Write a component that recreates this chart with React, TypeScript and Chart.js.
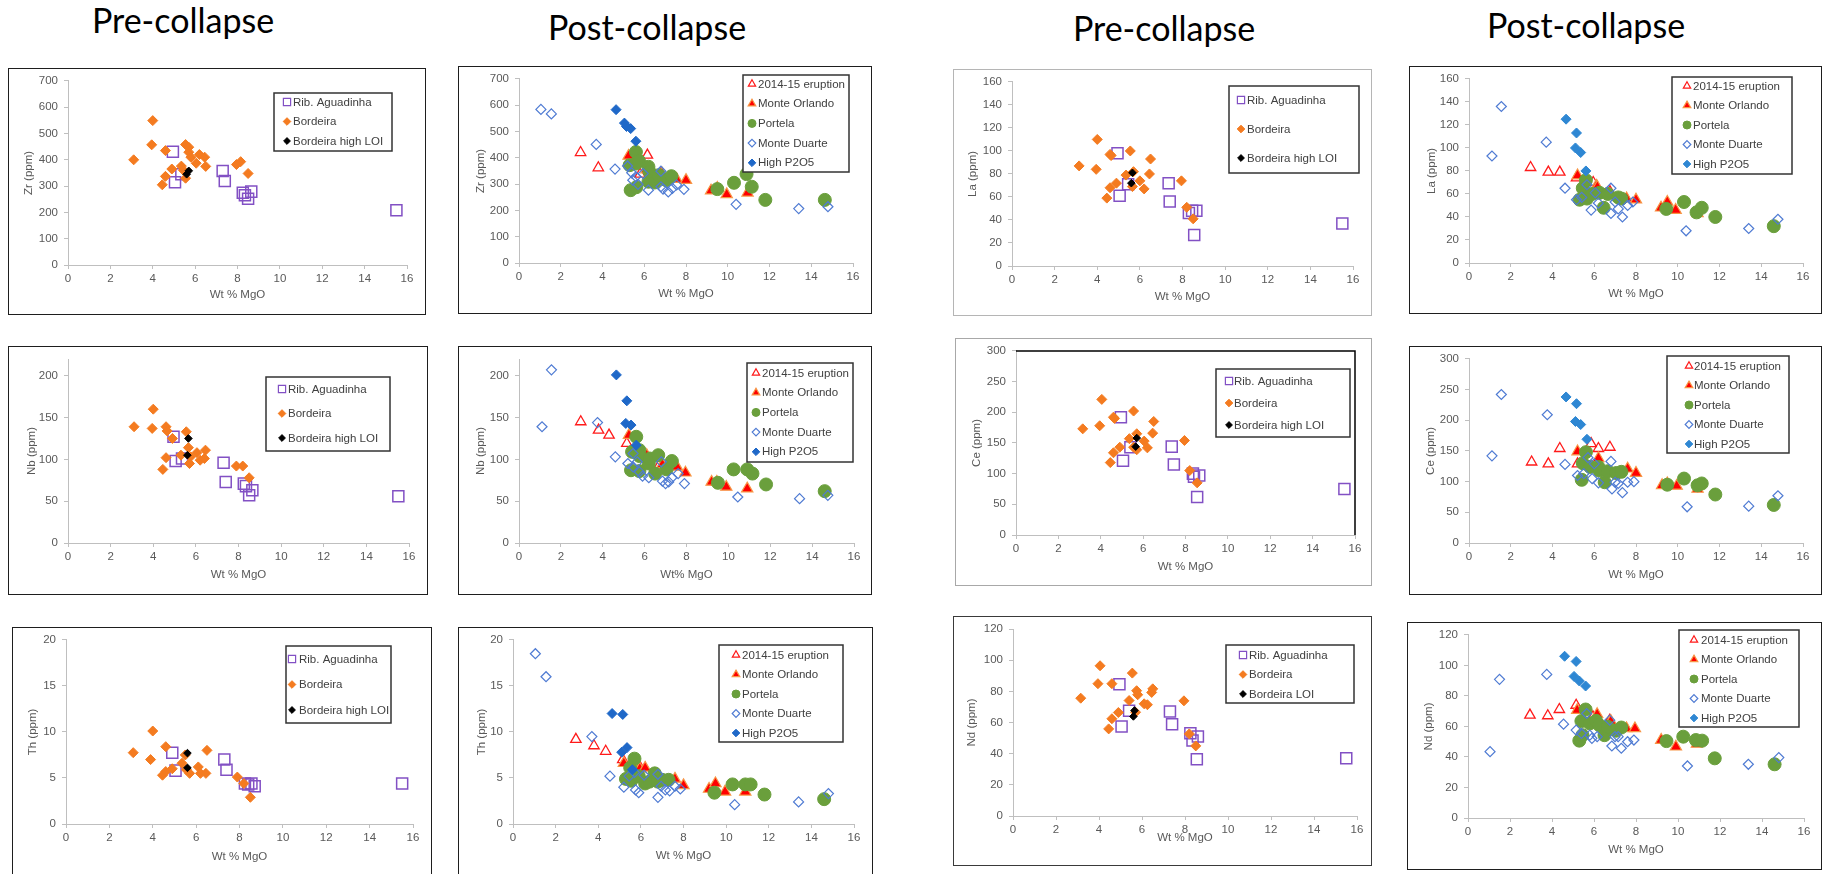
import React, { useEffect, useRef } from "react";
import { Chart, registerables } from "chart.js";
Chart.register(...registerables);

type P = [number, number];

// ---------- Panel 1: Zr, pre-collapse ----------
const ZR_PRE_RIB: P[] = [[4.95,431],[5.05,315],[5.35,345],[7.3,357],[7.4,319],[8.25,275],[8.35,265],[8.5,252],[8.65,279],[15.5,208]];
const ZR_PRE_BORDEIRA: P[] = [[3.1,400],[3.95,457],[4.0,549],[4.45,305],[4.6,337],[4.6,435],[4.9,365],[5.35,376],[5.45,360],[5.55,330],[5.55,458],[5.7,448],[5.7,429],[5.8,410],[6.05,387],[6.2,420],[6.45,410],[6.5,375],[7.95,382],[8.15,393],[8.5,348]];
const ZR_PRE_LOI: P[] = [[5.6,345],[5.7,358]];

// ---------- Panel 2: Zr, post-collapse ----------
const ZR_POST_ERUPTION: P[] = [[2.95,420],[3.8,362],[5.8,338],[6.15,410],[6.8,340]];
const ZR_POST_ORLANDO: P[] = [[5.25,407],[6.1,355],[6.85,340],[7.55,319],[8.0,315],[9.2,275],[9.5,285],[9.95,261],[10.95,267]];
const ZR_POST_PORTELA: P[] = [[5.3,372],[5.35,277],[5.6,422],[5.6,378],[5.62,288],[5.75,388],[6.2,366],[6.2,309],[6.25,347],[6.5,306],[6.7,334],[7.05,315],[7.3,330],[9.5,281],[10.3,305],[10.9,338],[11.15,290],[11.8,240],[14.65,240]];
const ZR_POST_DUARTE: P[] = [[1.05,584],[1.55,567],[3.7,451],[4.6,357],[5.2,369],[5.4,343],[5.45,315],[5.6,328],[5.7,299],[5.95,340],[6.2,277],[6.8,349],[6.8,290],[6.9,281],[7.15,270],[7.35,284],[7.55,297],[7.9,280],[10.4,223],[13.4,207],[14.8,214]];
const ZR_POST_P2O5: P[] = [[4.65,583],[5.05,532],[5.15,519],[5.35,511],[5.6,463]];

// ---------- Panel 3: La, pre-collapse ----------
const LA_PRE_RIB: P[] = [[4.95,98],[5.05,61],[5.45,71],[7.35,72],[7.4,56],[8.3,46],[8.45,48],[8.65,48],[8.55,27],[15.5,37]];
const LA_PRE_BORDEIRA: P[] = [[3.15,87],[3.95,84],[4.0,110],[4.45,59],[4.6,97],[4.65,96],[4.6,68],[4.9,72],[5.35,79],[5.55,100],[5.65,69],[5.7,82],[6.0,74],[6.2,67],[6.45,80],[6.5,93],[7.95,74],[8.2,51],[8.5,41]];
const LA_PRE_LOI: P[] = [[5.65,81],[5.6,72]];

// ---------- Panel 4: La, post-collapse ----------
const LA_POST_ERUPTION: P[] = [[2.95,83],[3.8,79],[4.35,79],[5.15,74],[5.95,70],[6.75,62]];
const LA_POST_ORLANDO: P[] = [[5.2,76],[6.1,67],[6.15,66],[7.55,56],[8.0,55],[9.2,48],[9.5,53],[9.9,46],[10.95,43]];
const LA_POST_PORTELA: P[] = [[5.3,55],[5.45,65],[5.6,72],[5.65,56],[5.9,60],[6.25,61],[6.45,48],[6.65,60],[7.15,57],[7.3,56],[9.45,47],[10.3,53],[10.9,44],[11.15,48],[11.8,40],[14.6,32]];
const LA_POST_DUARTE: P[] = [[1.1,93],[1.55,136],[3.7,105],[4.6,65],[5.15,55],[5.4,57],[5.65,68],[5.85,46],[6.05,61],[6.2,52],[6.8,65],[6.8,43],[7.0,53],[7.15,47],[7.35,40],[7.6,50],[7.85,53],[10.4,28],[13.4,30],[14.8,38]];
const LA_POST_P2O5: P[] = [[4.65,125],[5.15,113],[5.1,100],[5.35,96],[5.6,80]];

// ---------- Panel 5: Nb, pre-collapse ----------
const NB_PRE_RIB: P[] = [[4.95,127],[5.05,98],[5.35,101],[7.3,96],[7.4,73],[8.25,71],[8.35,68],[8.5,57],[8.65,63],[15.5,56]];
const NB_PRE_BORDEIRA: P[] = [[3.1,139],[3.95,137],[4.0,160],[4.45,88],[4.6,139],[4.65,134],[4.6,102],[4.9,125],[5.3,105],[5.55,133],[5.65,114],[5.75,103],[5.7,95],[6.05,108],[6.2,99],[6.45,111],[6.4,101],[7.9,92],[8.2,92],[8.5,78]];
const NB_PRE_LOI: P[] = [[5.65,125],[5.6,105]];

// ---------- Panel 6: Nb, post-collapse ----------
const NB_POST_ERUPTION: P[] = [[2.95,145],[3.8,135],[4.3,129],[5.15,119],[5.9,107],[6.7,93]];
const NB_POST_ORLANDO: P[] = [[5.25,129],[6.1,105],[6.85,94],[7.55,91],[7.95,84],[9.2,73],[9.45,73],[9.9,67],[10.9,65]];
const NB_POST_PORTELA: P[] = [[5.35,87],[5.4,109],[5.6,127],[5.75,111],[5.75,86],[5.75,104],[6.2,95],[6.25,101],[6.5,83],[6.65,105],[7.05,88],[7.3,98],[9.5,72],[10.25,88],[10.9,88],[11.15,83],[11.8,70],[14.6,62]];
const NB_POST_DUARTE: P[] = [[1.1,139],[1.55,207],[3.75,144],[4.6,103],[5.2,95],[5.45,107],[5.45,91],[5.65,97],[5.75,85],[5.9,80],[6.2,78],[6.8,97],[6.85,74],[7.0,71],[7.15,73],[7.3,78],[7.6,83],[7.9,71],[10.45,55],[13.4,53],[14.75,57]];
const NB_POST_P2O5: P[] = [[4.65,201],[5.15,170],[5.1,143],[5.35,141],[5.6,117]];

// ---------- Panel 7: Ce, pre-collapse ----------
const CE_PRE_RIB: P[] = [[4.95,192],[5.05,121],[5.4,143],[7.35,144],[7.45,115],[8.35,100],[8.4,95],[8.65,97],[8.55,62],[15.5,75]];
const CE_PRE_BORDEIRA: P[] = [[3.15,173],[3.95,178],[4.05,221],[4.45,118],[4.6,134],[4.6,192],[4.65,190],[4.9,143],[5.35,157],[5.55,202],[5.55,143],[5.7,165],[5.7,139],[6.05,153],[6.2,142],[6.45,166],[6.5,185],[7.95,154],[8.2,105],[8.55,85]];
const CE_PRE_LOI: P[] = [[5.7,158],[5.65,144]];

// ---------- Panel 8: Ce, post-collapse ----------
const CE_POST_ERUPTION: P[] = [[3.0,132],[3.8,129],[4.35,154],[5.2,129],[5.85,162],[6.2,154],[6.75,156]];
const CE_POST_ORLANDO: P[] = [[5.2,149],[6.2,138],[7.6,121],[8.0,114],[9.25,94],[9.5,97],[9.95,93],[10.95,88]];
const CE_POST_PORTELA: P[] = [[5.4,103],[5.45,130],[5.6,148],[5.8,124],[6.2,124],[6.25,118],[6.5,99],[6.65,117],[7.05,114],[7.3,116],[9.5,95],[10.3,105],[10.95,94],[11.15,97],[11.8,79],[14.6,62]];
const CE_POST_DUARTE: P[] = [[1.1,142],[1.55,242],[3.75,209],[4.6,128],[5.2,110],[5.5,113],[5.7,139],[5.9,105],[6.0,129],[6.2,98],[6.8,133],[6.85,88],[7.0,99],[7.15,97],[7.35,82],[7.6,99],[7.9,100],[10.45,59],[13.4,60],[14.8,77]];
const CE_POST_P2O5: P[] = [[4.65,238],[5.15,227],[5.1,198],[5.35,193],[5.65,169]];

// ---------- Panel 9: Th, pre-collapse ----------
const TH_PRE_RIB: P[] = [[4.9,7.75],[5.05,5.8],[7.3,7.0],[7.4,5.9],[8.25,4.4],[8.4,4.3],[8.55,4.4],[8.7,4.1],[15.5,4.4]];
const TH_PRE_BORDEIRA: P[] = [[3.1,7.75],[3.9,7.0],[4.0,10.1],[4.45,5.3],[4.6,8.4],[4.6,5.7],[4.9,6.0],[5.35,6.6],[5.5,7.5],[5.55,5.9],[5.7,5.5],[6.1,6.2],[6.2,5.5],[6.45,5.5],[6.5,8.0],[7.9,5.1],[8.2,4.4],[8.5,2.9]];
const TH_PRE_LOI: P[] = [[5.6,7.7],[5.6,6.1]];

// ---------- Panel 10: Th, post-collapse ----------
const TH_POST_ERUPTION: P[] = [[2.95,9.2],[3.8,8.5],[4.35,7.9],[5.15,7.0],[5.95,6.2],[6.8,5.3]];
const TH_POST_ORLANDO: P[] = [[5.2,6.6],[5.95,6.0],[6.2,6.1],[7.6,4.9],[8.0,4.2],[9.2,3.8],[9.5,4.4],[9.95,3.5],[10.9,3.5]];
const TH_POST_PORTELA: P[] = [[5.3,4.9],[5.5,6.1],[5.55,4.7],[5.7,7.1],[5.9,5.2],[6.2,4.4],[6.4,4.6],[6.65,5.5],[6.8,4.6],[7.0,4.8],[7.3,4.8],[9.45,3.4],[10.3,4.3],[10.9,4.3],[11.15,4.3],[11.8,3.2],[14.6,2.7]];
const TH_POST_DUARTE: P[] = [[1.05,18.5],[1.55,16.0],[3.7,9.5],[4.55,5.2],[5.2,4.0],[5.45,5.2],[5.7,5.6],[5.75,3.7],[5.9,3.4],[6.15,5.3],[6.8,5.4],[6.8,2.9],[6.95,4.1],[7.15,3.7],[7.35,3.6],[7.6,4.1],[7.85,3.8],[10.4,2.1],[13.4,2.4],[14.8,3.3]];
const TH_POST_P2O5: P[] = [[4.65,12.0],[5.15,11.9],[5.1,7.8],[5.35,8.3],[5.6,5.9]];

// ---------- Panel 11: Nd, pre-collapse ----------
const ND_PRE_RIB: P[] = [[4.95,84.6],[5.05,57.4],[5.4,67.5],[7.3,67.1],[7.4,58.9],[8.25,53.1],[8.35,48.4],[8.6,51],[8.55,36.4],[15.5,37]];
const ND_PRE_BORDEIRA: P[] = [[3.15,75.6],[3.95,84.9],[4.05,96.4],[4.45,55.9],[4.6,62.4],[4.6,84.9],[4.9,66.4],[5.4,74.1],[5.55,91.7],[5.7,66.6],[5.75,80.4],[5.8,77.8],[6.1,72],[6.25,71.4],[6.45,79.3],[6.5,81.6],[7.95,73.9],[8.2,52.7],[8.5,45]];
const ND_PRE_LOI: P[] = [[5.65,67.7],[5.6,63.9]];

// ---------- Panel 12: Nd, post-collapse ----------
const ND_POST_ERUPTION: P[] = [[2.95,67.4],[3.8,67],[4.35,71.1],[5.15,73.9],[5.95,66.3],[6.75,64.1]];
const ND_POST_ORLANDO: P[] = [[5.2,70.7],[6.15,68],[6.8,63.5],[7.55,58.7],[7.95,58.7],[9.2,51.1],[9.9,46.7],[10.9,48.5]];
const ND_POST_PORTELA: P[] = [[5.3,50.7],[5.4,63.5],[5.45,54.3],[5.6,71.1],[5.8,62],[6.1,63.7],[6.25,60.9],[6.5,54.3],[6.65,59.8],[7.05,57.2],[7.3,59.3],[9.45,50.4],[10.25,53.3],[10.85,51.1],[11.15,50.7],[11.75,39.1],[14.6,35.2]];
const ND_POST_DUARTE: P[] = [[1.05,43.5],[1.5,90.9],[3.75,94.1],[4.55,61.5],[5.15,57.6],[5.4,55.4],[5.65,68.5],[5.8,54.3],[5.9,52.2],[6.15,53.3],[6.75,64.1],[6.85,47.2],[7.0,53.3],[7.15,53.3],[7.3,45.7],[7.6,50],[7.9,51.1],[10.45,34.1],[13.35,35.2],[14.8,39.6]];
const ND_POST_P2O5: P[] = [[4.6,106],[5.15,102.6],[5.05,92.8],[5.3,89.8],[5.6,86.5]];

const TITLES: { text: string; cx: number; base: number }[] = [
  { text: "Pre-collapse", cx: 183, base: 33 },
  { text: "Post-collapse", cx: 647, base: 40 },
  { text: "Pre-collapse", cx: 1164, base: 41 },
  { text: "Post-collapse", cx: 1586, base: 38 },
];

// ---------- styles ----------
type Key = "rib" | "bordeira" | "loi" | "eruption" | "orlando" | "portela" | "duarte" | "p2o5" | "p2o5b";
interface Sty { label: string; ps: string; r: number; lr: number; bg: string; bc: string; bw: number; }
const STYLE: Record<Key, Sty> = {
  rib: { label: "Rib. Aguadinha", ps: "rect", r: 7.8, lr: 3.6, bg: "rgba(0,0,0,0)", bc: "#8250C4", bw: 1.5 },
  bordeira: { label: "Bordeira", ps: "rectRot", r: 5, lr: 3.8, bg: "#F47B20", bc: "#F47B20", bw: 1 },
  loi: { label: "Bordeira high LOI", ps: "rectRot", r: 3.8, lr: 3.4, bg: "#000000", bc: "#000000", bw: 1 },
  eruption: { label: "2014-15 eruption", ps: "triangle", r: 6, lr: 4.2, bg: "rgba(0,0,0,0)", bc: "#FF1A1A", bw: 1.3 },
  orlando: { label: "Monte Orlando", ps: "triangle", r: 6.5, lr: 4.4, bg: "#FF0000", bc: "#F79646", bw: 1.2 },
  portela: { label: "Portela", ps: "circle", r: 6.5, lr: 4, bg: "#6A9F3C", bc: "#6A9F3C", bw: 1 },
  duarte: { label: "Monte Duarte", ps: "rectRot", r: 5, lr: 3.8, bg: "rgba(0,0,0,0)", bc: "#4F7BD3", bw: 1.2 },
  p2o5: { label: "High P2O5", ps: "rectRot", r: 5, lr: 3.8, bg: "#1F68C8", bc: "#1F68C8", bw: 1 },
  p2o5b: { label: "High P2O5", ps: "rectRot", r: 5, lr: 3.8, bg: "#2E87D3", bc: "#2E87D3", bw: 1 },
};

interface Legend { x: number; y: number; w: number; h: number; r0: number; gap: number; mx: number; tx: number; }
interface Panel {
  box: [number, number, number, number];
  border: string;
  plot: [number, number, number, number];
  yMax: number; yStep: number; yTitle: string; xTitle: string;
  yTitleX: number; xTitleY: number;
  series: [Key, P[], string?][];
  legend: Legend;
  plotFrame?: boolean;
}

const PRE = (rib: P[], b: P[], loi: P[], loiLabel?: string): [Key, P[], string?][] => [["rib", rib], ["bordeira", b], ["loi", loi, loiLabel]];
const POST = (e: P[], o: P[], p: P[], d: P[], h: P[], hk: Key = "p2o5"): [Key, P[], string?][] => [["eruption", e], ["orlando", o], ["portela", p], ["duarte", d], [hk, h]];

const PANELS: Panel[] = [
  { box: [8, 68, 426, 315], border: "#1e1e1e", plot: [68, 407, 80, 265], yMax: 700, yStep: 100, yTitle: "Zr (ppm)", xTitle: "Wt % MgO", yTitleX: 29, xTitleY: 295,
    series: PRE(ZR_PRE_RIB, ZR_PRE_BORDEIRA, ZR_PRE_LOI), legend: { x: 274, y: 93, w: 118, h: 58, r0: 9, gap: 19.5, mx: 13, tx: 19 } },
  { box: [458, 66, 872, 314], border: "#1e1e1e", plot: [519, 853, 78, 263], yMax: 700, yStep: 100, yTitle: "Zr (ppm)", xTitle: "Wt % MgO", yTitleX: 481, xTitleY: 294,
    series: POST(ZR_POST_ERUPTION, ZR_POST_ORLANDO, ZR_POST_PORTELA, ZR_POST_DUARTE, ZR_POST_P2O5), legend: { x: 743, y: 75, w: 106, h: 97, r0: 9, gap: 19.7, mx: 9, tx: 15 } },
  { box: [953, 69, 1372, 316], border: "#b5b5b5", plot: [1012, 1353, 81, 266], yMax: 160, yStep: 20, yTitle: "La (ppm)", xTitle: "Wt % MgO", yTitleX: 973, xTitleY: 297,
    series: PRE(LA_PRE_RIB, LA_PRE_BORDEIRA, LA_PRE_LOI), legend: { x: 1229, y: 86, w: 130, h: 87, r0: 14, gap: 29, mx: 12, tx: 18 } },
  { box: [1409, 66, 1822, 314], border: "#1e1e1e", plot: [1469, 1803, 78, 263], yMax: 160, yStep: 20, yTitle: "La (ppm)", xTitle: "Wt % MgO", yTitleX: 1432, xTitleY: 294,
    series: POST(LA_POST_ERUPTION, LA_POST_ORLANDO, LA_POST_PORTELA, LA_POST_DUARTE, LA_POST_P2O5, "p2o5b"), legend: { x: 1672, y: 77, w: 120, h: 97, r0: 9, gap: 19.5, mx: 15, tx: 21 } },
  { box: [8, 346, 428, 595], border: "#1e1e1e", plot: [68, 409, 359, 543], yMax: 220, yStep: 50, yTitle: "Nb (ppm)", xTitle: "Wt % MgO", yTitleX: 32, xTitleY: 575,
    series: PRE(NB_PRE_RIB, NB_PRE_BORDEIRA, NB_PRE_LOI), legend: { x: 266, y: 377, w: 124, h: 74, r0: 12, gap: 24.5, mx: 16, tx: 22 } },
  { box: [458, 346, 872, 595], border: "#1e1e1e", plot: [519, 854, 359, 543], yMax: 220, yStep: 50, yTitle: "Nb (ppm)", xTitle: "Wt% MgO", yTitleX: 481, xTitleY: 575,
    series: POST(NB_POST_ERUPTION, NB_POST_ORLANDO, NB_POST_PORTELA, NB_POST_DUARTE, NB_POST_P2O5), legend: { x: 747, y: 363, w: 106, h: 99, r0: 10, gap: 19.7, mx: 9, tx: 15 } },
  { box: [955, 338, 1372, 586], border: "#a8a8a8", plot: [1016, 1355, 350, 535], yMax: 300, yStep: 50, yTitle: "Ce (ppm)", xTitle: "Wt % MgO", yTitleX: 977, xTitleY: 567,
    series: PRE(CE_PRE_RIB, CE_PRE_BORDEIRA, CE_PRE_LOI), legend: { x: 1216, y: 369, w: 134, h: 68, r0: 12, gap: 22, mx: 13, tx: 18 }, plotFrame: true },
  { box: [1409, 346, 1822, 595], border: "#1e1e1e", plot: [1469, 1803, 358, 543], yMax: 300, yStep: 50, yTitle: "Ce (ppm)", xTitle: "Wt % MgO", yTitleX: 1431, xTitleY: 575,
    series: POST(CE_POST_ERUPTION, CE_POST_ORLANDO, CE_POST_PORTELA, CE_POST_DUARTE, CE_POST_P2O5, "p2o5b"), legend: { x: 1667, y: 356, w: 122, h: 97, r0: 10, gap: 19.5, mx: 22, tx: 27 } },
  { box: [12, 627, 432, 880], border: "#1e1e1e", plot: [66, 413, 639, 824], yMax: 20, yStep: 5, yTitle: "Th (ppm)", xTitle: "Wt % MgO", yTitleX: 33, xTitleY: 857,
    series: PRE(TH_PRE_RIB, TH_PRE_BORDEIRA, TH_PRE_LOI), legend: { x: 286, y: 646, w: 105, h: 77, r0: 13, gap: 25.5, mx: 6, tx: 13 } },
  { box: [458, 627, 873, 880], border: "#1e1e1e", plot: [513, 854, 639, 824], yMax: 20, yStep: 5, yTitle: "Th (ppm)", xTitle: "Wt % MgO", yTitleX: 482, xTitleY: 856,
    series: POST(TH_POST_ERUPTION, TH_POST_ORLANDO, TH_POST_PORTELA, TH_POST_DUARTE, TH_POST_P2O5), legend: { x: 719, y: 645, w: 124, h: 97, r0: 10, gap: 19.5, mx: 17, tx: 23 } },
  { box: [953, 616, 1372, 866], border: "#3a3a3a", plot: [1013, 1357, 629, 816], yMax: 120, yStep: 20, yTitle: "Nd (ppm)", xTitle: "Wt % MgO", yTitleX: 972, xTitleY: 838,
    series: PRE(ND_PRE_RIB, ND_PRE_BORDEIRA, ND_PRE_LOI, "Bordeira LOI"), legend: { x: 1226, y: 645, w: 128, h: 58, r0: 10, gap: 19.5, mx: 17, tx: 23 } },
  { box: [1407, 622, 1822, 870], border: "#1e1e1e", plot: [1468, 1804, 634, 818], yMax: 120, yStep: 20, yTitle: "Nd (ppm)", xTitle: "Wt % MgO", yTitleX: 1429, xTitleY: 850,
    series: POST(ND_POST_ERUPTION, ND_POST_ORLANDO, ND_POST_PORTELA, ND_POST_DUARTE, ND_POST_P2O5, "p2o5b"), legend: { x: 1679, y: 630, w: 120, h: 97, r0: 10, gap: 19.5, mx: 15, tx: 22 } },
];

const FONT_FAMILY = '"Liberation Sans", Arial, sans-serif';
const TICK_FONT = { family: FONT_FAMILY, size: 11.5 };
const AXIS_GRAY = "#BFBFBF";
const TEXT_GRAY = "#595959";

function drawMarker(ctx: CanvasRenderingContext2D, s: Sty, x: number, y: number) {
  const r = s.lr;
  ctx.beginPath();
  if (s.ps === "rect") ctx.rect(x - r, y - r, 2 * r, 2 * r);
  else if (s.ps === "rectRot") { ctx.moveTo(x, y - r); ctx.lineTo(x + r, y); ctx.lineTo(x, y + r); ctx.lineTo(x - r, y); ctx.closePath(); }
  else if (s.ps === "triangle") { ctx.moveTo(x, y - r); ctx.lineTo(x + r * 0.87, y + r * 0.5); ctx.lineTo(x - r * 0.87, y + r * 0.5); ctx.closePath(); }
  else ctx.arc(x, y, r, 0, Math.PI * 2);
  ctx.fillStyle = s.bg; ctx.fill();
  ctx.lineWidth = Math.min(s.bw, 1.2); ctx.strokeStyle = s.bc; ctx.stroke();
}

function PanelChart({ p }: { p: Panel }) {
  const ref = useRef<HTMLCanvasElement>(null);
  const [L, T, R, B] = p.box;
  const W = R - L, H = B - T;
  useEffect(() => {
    const lh = TICK_FONT.size * 1.2;
    const pl = p.plot[0] - L, pr = p.plot[1] - L, pt = p.plot[2] - T, pb = p.plot[3] - T;
    const padLeft = p.yTitleX - L - lh / 2;
    const yW = pl - padLeft;
    const padRight = W - pr;
    const padBottom = H - (p.xTitleY - T) - lh / 2;
    const xH = H - padBottom - pb;
    const n = p.series.length;
    const lg = p.legend;
    const legendPlugin = {
      id: "boxLegend",
      afterDraw(chart: any) {
        const ctx: CanvasRenderingContext2D = chart.ctx;
        ctx.save();
        if (p.plotFrame) {
          const a = chart.chartArea;
          ctx.strokeStyle = "#000"; ctx.lineWidth = 1.5;
          ctx.beginPath(); ctx.moveTo(a.left, a.top); ctx.lineTo(a.right, a.top); ctx.lineTo(a.right, a.bottom); ctx.stroke();
        }
        const x = lg.x - L, y = lg.y - T;
        ctx.fillStyle = "#fff"; ctx.fillRect(x, y, lg.w, lg.h);
        ctx.strokeStyle = "#333"; ctx.lineWidth = 1.5; ctx.strokeRect(x, y, lg.w, lg.h);
        ctx.font = `11.5px ${FONT_FAMILY}`;
        ctx.textBaseline = "middle"; ctx.textAlign = "left";
        p.series.forEach(([k, , label], i) => {
          const s = STYLE[k];
          const cy = y + lg.r0 + i * lg.gap;
          drawMarker(ctx, s, x + lg.mx, cy);
          ctx.fillStyle = "#404040";
          ctx.fillText(label ?? s.label, x + lg.tx, cy + 0.5);
        });
        ctx.restore();
      },
    };
    const chart = new Chart(ref.current as HTMLCanvasElement, {
      type: "scatter",
      data: {
        datasets: p.series.map(([k, pts, label], i) => {
          const s = STYLE[k];
          return {
            label: label ?? s.label,
            data: pts.map(([x, y]) => ({ x, y })),
            pointStyle: s.ps as any,
            pointRadius: s.r,
            pointBackgroundColor: s.bg,
            pointBorderColor: s.bc,
            pointBorderWidth: s.bw,
            backgroundColor: s.bg,
            borderColor: s.bc,
            order: n - i,
          };
        }),
      },
      options: {
        animation: false,
        responsive: false,
        devicePixelRatio: 1,
        events: [],
        layout: { padding: { left: padLeft, right: padRight, top: pt, bottom: padBottom } },
        plugins: { legend: { display: false }, tooltip: { enabled: false } },
        scales: {
          x: {
            type: "linear", min: 0, max: 16,
            ticks: { stepSize: 2, font: TICK_FONT, color: TEXT_GRAY, padding: 3 },
            grid: { drawOnChartArea: false, drawTicks: true, tickLength: 4, color: AXIS_GRAY },
            border: { display: true, color: AXIS_GRAY, width: 1 },
            title: { display: true, text: p.xTitle, font: TICK_FONT, color: TEXT_GRAY, padding: 0 },
            afterFit: (s: any) => { s.height = xH; },
          },
          y: {
            type: "linear", min: 0, max: p.yMax,
            ticks: { stepSize: p.yStep, font: TICK_FONT, color: TEXT_GRAY, padding: 6, includeBounds: false },
            grid: { drawOnChartArea: false, drawTicks: true, tickLength: 4, color: AXIS_GRAY },
            border: { display: true, color: AXIS_GRAY, width: 1 },
            title: { display: true, text: p.yTitle, font: TICK_FONT, color: TEXT_GRAY, padding: 0 },
            afterFit: (s: any) => { s.width = yW; },
          },
        },
      } as any,
      plugins: [legendPlugin],
    });
    return () => chart.destroy();
  }, [p]);
  return (
    <div style={{ position: "absolute", left: L, top: T, width: W, height: H, background: "#fff" }}>
      <canvas ref={ref} width={W} height={H} style={{ position: "absolute", left: 0, top: 0, width: W, height: H }} />
      <div style={{ position: "absolute", inset: 0, border: `1.5px solid ${p.border}`, boxSizing: "border-box", pointerEvents: "none" }} />
    </div>
  );
}

export default function App() {
  const fs = 34;
  return (
    <div style={{ position: "absolute", left: 0, top: 0, width: 1830, height: 874, background: "#fff", overflow: "hidden" }}>
      {TITLES.map((t, i) => (
        <div key={i} style={{ position: "absolute", left: t.cx - 150, width: 300, textAlign: "center", top: t.base - 30.2, fontFamily: "Lato, 'Open Sans', sans-serif", fontSize: fs, lineHeight: `${fs}px`, color: "#000", whiteSpace: "nowrap" }}>
          {t.text}
        </div>
      ))}
      {PANELS.map((p, i) => <PanelChart key={i} p={p} />)}
    </div>
  );
}
